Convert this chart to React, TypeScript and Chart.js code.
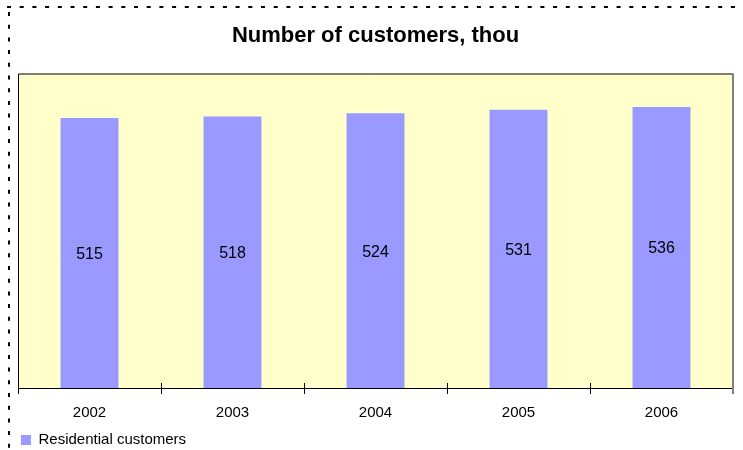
import React, { useEffect, useRef } from "react";
import { Chart, registerables } from "chart.js";

Chart.register(...registerables);

const years = ["2002", "2003", "2004", "2005", "2006"];
const residential = [515, 518, 524, 531, 536];
const seriesName = "Residential customers";
const titleText = "Number of customers, thou";

const FONT = "'Liberation Sans', Arial, sans-serif";

const decorPlugin = {
  id: "decor",
  beforeDraw(chart: any) {
    const { ctx, chartArea: a } = chart;
    ctx.save();
    ctx.fillStyle = "#FFFFFF";
    ctx.fillRect(0, 0, chart.width, chart.height);
    // dotted outer border
    ctx.strokeStyle = "#000000";
    ctx.lineWidth = 2;
    ctx.setLineDash([4, 8.7]);
    ctx.beginPath();
    ctx.moveTo(7, 7);
    ctx.lineTo(chart.width, 7);
    ctx.stroke();
    ctx.beginPath();
    ctx.moveTo(9, 12);
    ctx.lineTo(9, chart.height);
    ctx.stroke();
    ctx.setLineDash([]);
    // plot area
    ctx.fillStyle = "#FFFFCC";
    ctx.fillRect(a.left, a.top, a.right - a.left, a.bottom - a.top);
    ctx.restore();
  },
  afterDatasetsDraw(chart: any) {
    const { ctx, chartArea: a } = chart;
    ctx.save();
    // frame
    ctx.lineWidth = 1;
    ctx.strokeStyle = "#000000";
    ctx.beginPath();
    ctx.moveTo(a.left + 0.5, a.bottom);
    ctx.lineTo(a.left + 0.5, a.top + 0.5);
    ctx.lineTo(a.right, a.top + 0.5);
    ctx.stroke();
    ctx.strokeStyle = "#808080";
    ctx.lineWidth = 2;
    ctx.beginPath();
    ctx.moveTo(a.right, a.top);
    ctx.lineTo(a.right, a.bottom + 6);
    ctx.stroke();
    ctx.strokeStyle = "#000000";
    ctx.lineWidth = 1;
    ctx.beginPath();
    ctx.moveTo(a.left, a.bottom + 0.5);
    ctx.lineTo(a.right - 1, a.bottom + 0.5);
    ctx.stroke();
    // tick marks at category boundaries
    const n = years.length;
    const step = (a.right - a.left) / n;
    ctx.beginPath();
    for (let i = 0; i < n; i++) {
      const x = Math.round(a.left + step * i) + 0.5;
      ctx.moveTo(x, i === 0 ? a.bottom : a.bottom - 5);
      ctx.lineTo(x, a.bottom + 6);
    }
    ctx.stroke();
    // data labels
    ctx.fillStyle = "#000000";
    ctx.font = `16px ${FONT}`;
    ctx.textAlign = "center";
    ctx.textBaseline = "middle";
    const meta = chart.getDatasetMeta(0);
    meta.data.forEach((bar: any, i: number) => {
      const cy = (bar.y + bar.base) / 2 + 1.5;
      ctx.fillText(String(residential[i]), bar.x, cy);
    });
    ctx.restore();
  },
};

export default function App() {
  const ref = useRef<HTMLCanvasElement | null>(null);
  useEffect(() => {
    if (!ref.current) return;
    const chart = new Chart(ref.current, {
      type: "bar",
      data: {
        labels: years,
        datasets: [
          {
            label: seriesName,
            data: residential,
            backgroundColor: "#9999FF",
            borderWidth: 0,
            categoryPercentage: 1,
            barPercentage: 0.405,
          },
        ],
      },
      options: {
        responsive: false,
        animation: false,
        layout: { padding: { left: 18, right: 10, top: 0, bottom: -7.5 } },
        scales: {
          x: {
            grid: { display: false },
            border: { display: false },
            ticks: {
              color: "#000000",
              font: { family: FONT, size: 15 },
              padding: 8,
            },
            afterFit: (scale: any) => {
              scale.height = 41.5;
            },
          },
          y: {
            display: false,
            min: 0,
            max: 600,
          },
        },
        plugins: {
          title: {
            display: true,
            text: titleText,
            color: "#000000",
            font: { family: FONT, size: 22, weight: "bold" },
            padding: { top: 23, bottom: 24.1 },
          },
          legend: {
            position: "bottom",
            align: "start",
            labels: {
              color: "#000000",
              font: { family: FONT, size: 15 },
              boxWidth: 10,
              boxHeight: 10,
              padding: 3,
            },
          },
          tooltip: { enabled: false },
        },
      },
      plugins: [decorPlugin],
    });
    return () => chart.destroy();
  }, []);
  return (
    <div style={{ position: "fixed", left: 0, top: 0, width: 743, height: 450 }}>
      <canvas ref={ref} width={743} height={450} style={{ display: "block" }} />
    </div>
  );
}
